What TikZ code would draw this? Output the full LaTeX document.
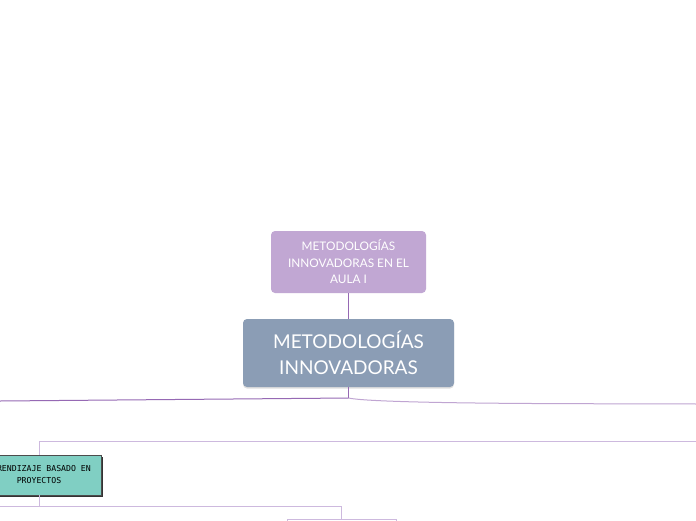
\documentclass[tikz,border=0pt]{standalone}
\usepackage{fontspec}
\setmainfont{Lato}
\newfontfamily\handfont{DejaVu Sans Mono}
\usepackage{tikz}
\usetikzlibrary{positioning, calc, shadows}
\definecolor{lilac}{RGB}{193, 167, 211}
\definecolor{slate}{RGB}{139, 157, 181}
\definecolor{mint}{RGB}{128, 207, 195}
\definecolor{plum}{RGB}{150, 105, 180}
\definecolor{lavender}{RGB}{205, 185, 222}

\begin{document}
\begin{tikzpicture}[x=1pt, y=-1pt,
  titlebox/.style={fill=lilac, rounded corners=4pt, text=white, align=center,
    minimum width=155pt, minimum height=62pt, inner sep=0pt,
    font=\fontsize{11.8}{16.5}\selectfont},
  rootbox/.style={fill=slate, rounded corners=4pt, text=white, align=center,
    minimum width=211pt, minimum height=68pt, inner sep=0pt,
    drop shadow={shadow xshift=0pt, shadow yshift=-1.5pt, opacity=0.25},
    font=\fontsize{19}{26}\selectfont},
  topicbox/.style={fill=mint, draw=black!70, align=center,
    minimum width=124pt, minimum height=40pt, inner sep=0pt,
    drop shadow={shadow xshift=1.5pt, shadow yshift=-1.5pt, fill=black!80, opacity=1},
    font=\handfont\fontsize{8.2}{12}\selectfont},
  subbox/.style={draw=lavender, line width=1pt, fill=white,
    minimum width=109pt, minimum height=40pt, inner sep=0pt},
  mainline/.style={draw=plum, line width=1pt},
  subline/.style={draw=lavender, line width=1pt}]
  \clip (0,0) rectangle (696,520);
  \fill[white] (0,0) rectangle (696,520);

  % ---- Title and root ----
  \node[titlebox] (title) at (348.5,262) {METODOLOGÍAS\\INNOVADORAS EN EL\\AULA I};
  \node[rootbox] (root) at (348.5,353) {METODOLOGÍAS\\INNOVADORAS};
  \draw[mainline] (title.south) -- (root.north);

  % ---- Branches from the root ----
  \coordinate (hub) at (348.5,398);
  \coordinate (westend) at (0,401);
  \coordinate (eastend) at (696,404);
  \draw[mainline] (root.south) -- (hub);
  \draw[mainline] (hub) -- (westend);
  \draw[mainline, draw=plum!60] (hub) to[out=-12, in=179, looseness=0.25] (eastend);

  % ---- Project based learning ----
  \node[topicbox] (abp) at (39,475) {APRENDIZAJE BASADO EN\\PROYECTOS};
  \coordinate (rail) at (696,441);
  \draw[subline] (abp.north) |- (rail);

  \node[subbox, anchor=north] (next) at (341.5,518.5) {};
  \coordinate (fork) at (39,506);
  \coordinate (forkwest) at (0,506);
  \draw[subline] (abp.south) -- (fork);
  \draw[subline] (fork) -- (forkwest);
  \draw[subline] (fork) -| (next.north);
\end{tikzpicture}
\end{document}
